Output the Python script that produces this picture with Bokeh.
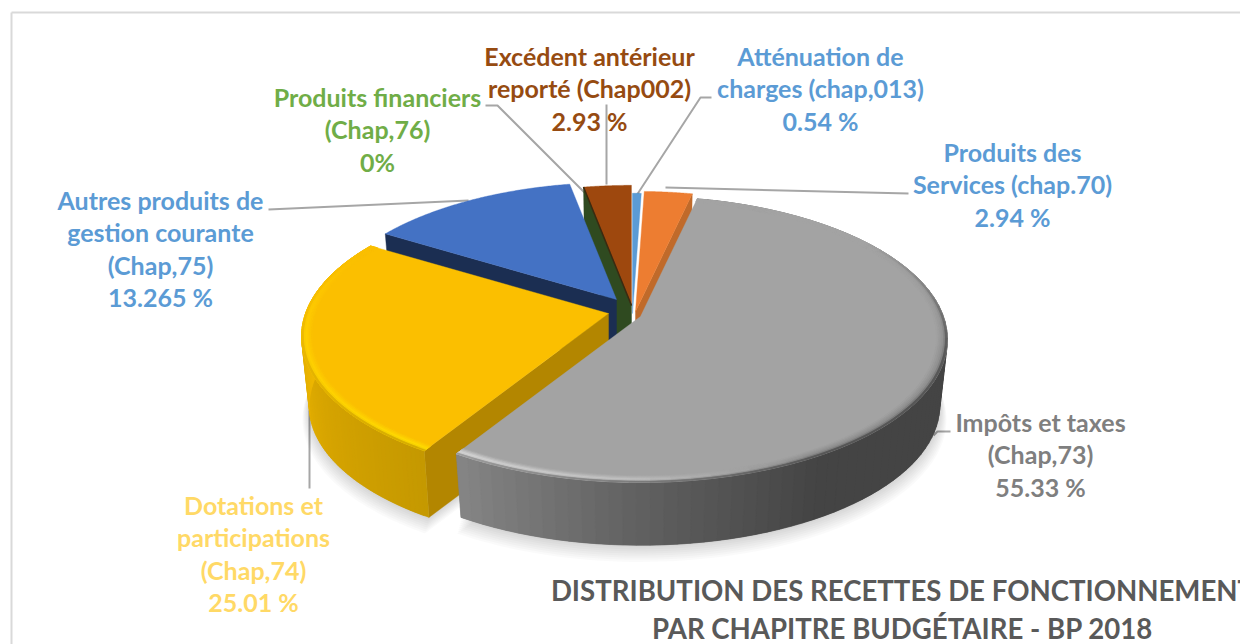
import numpy as np
from bokeh.plotting import figure
from bokeh.models import ColumnDataSource
from bokeh.core.properties import value
from bokeh.embed import file_html
from bokeh.resources import INLINE

# ---- data -------------------------------------------------------------
categories = ["Atténuation de charges", "Produits des Services", "Impôts et taxes",
              "Dotations et participations", "Autres produits de gestion courante",
              "Produits financiers", "Excédent antérieur reporté"]
values = [0.54, 2.94, 55.33, 25.01, 13.265, 0.0, 2.93]

label_lines = [
    ["Atténuation de", "charges (chap,013)", "0.54 %"],
    ["Produits des", "Services (chap.70)", "2.94 %"],
    ["Impôts et taxes", "(Chap,73)", "55.33 %"],
    ["Dotations et", "participations", "(Chap,74)", "25.01 %"],
    ["Autres produits de", "gestion courante", "(Chap,75)", "13.265 %"],
    ["Produits financiers", "(Chap,76)", "0%"],
    ["Excédent antérieur", "reporté (Chap002)", "2.93 %"],
]
title_lines = ["DISTRIBUTION DES RECETTES DE FONCTIONNEMENT",
               "PAR CHAPITRE BUDGÉTAIRE - BP 2018"]

# ---- layout / style ----------------------------------------------------
W, H = 1240, 644
START = -0.02           # clockwise degrees from the top for the first slice
A, B, K = 303.0, 139.4, 0.16   # projection of the unit disc
BOTTOM = 0.975

apex = [(632, 313), (635, 311), (640, 316), (608, 313), (616, 299), (631, 305), (631, 305)]
radius = [1.0, 1.0, 1.0, 1.0, 0.97, 1.0, 1.0]
depth = [66, 66, 67, 70, 66, 66, 66]
top_col = ["#5B9BD5", "#ED7D31", "#A3A3A3", "#FBBF00", "#4472C4", "#2F4A20", "#9E480E"]
label_col = ["#5B9BD5", "#5B9BD5", "#7F7F7F", "#FFD966", "#5B9BD5", "#70AD47", "#964B11"]
label_cx = [820, 1012, 1040, 253, 160, 377, 589]
label_y0 = [55.5, 151.5, 421.5, 504.5, 199.5, 96.5, 55.5]
LINE_H = 32.4
FS = "25px"

leaders = [
    [(636, 195), (700, 97), (711, 97)],
    [(665, 187), (908, 193)],
    [(933, 435), (937, 431), (950, 431)],
    [(309, 410), (309, 488)],
    [(268, 209), (468, 200)],
    [(584, 192), (497, 105), (485, 105)],
    [(606, 184), (606, 104)],
]


def proj(i, alpha, r=1.0, s=1.0, d=0.0):
    a = np.radians(alpha)
    X, Y = r * radius[i] * np.sin(a), r * radius[i] * np.cos(a)
    w = 1 + K * Y
    return apex[i][0] + s * A * X / w, apex[i][1] + d - s * B * Y / w


def rgb(h):
    return np.array([int(h[j:j + 2], 16) for j in (1, 3, 5)], float)


def hexc(c):
    return "#%02x%02x%02x" % tuple(int(round(v)) for v in np.clip(c, 0, 255))


def ramp(stops, alpha):
    an = [s[0] for s in stops]
    cs = np.array([rgb(s[1]) for s in stops])
    return np.array([np.interp(alpha, an, cs[:, j]) for j in range(3)])


edges = np.concatenate([[0], np.cumsum(values)]) / sum(values) * 360 + START
span = [(edges[i], edges[i + 1]) for i in range(len(values))]

wall_stops = {
    1: [(0, "#C06A2A"), (30, "#C06A2A")],
    2: [(0, "#444444"), (150, "#444444"), (180, "#606060"), (212, "#868686")],
    3: [(210, "#C49800"), (240, "#D6A400"), (270, "#EDB600"), (300, "#EDB600")],
    4: [(300, "#1B2E52"), (350, "#1B2E52")],
}
hi_stops = {
    2: [(0, "#A3A3A3"), (120, "#8a8a8a"), (150, "#8a8a8a"), (180, "#c4c4c4"), (212, "#dcdcdc")],
    3: [(210, "#FFDF00"), (240, "#FFD400"), (300, "#FFCC00")],
}
bevel_strength = {
    2: ([55.0, 105.0, 360.0], [0.0, 1.0, 1.0]),
    3: ([0.0, 262.0, 298.0], [1.0, 1.0, 0.0]),
}

xs, ys, cols, alphas = [], [], [], []


def add(x, y, c, al=1.0):
    xs.append(list(np.round(x, 2)))
    ys.append(list(np.round(y, 2)))
    cols.append(c)
    alphas.append(al)


def sector(i, r=1.0, s=1.0, d=0.0, n=120):
    a = np.linspace(*span[i], n)
    x, y = proj(i, a, r, s, d)
    return np.r_[apex[i][0], x], np.r_[apex[i][1] + d, y]


def radial_wall(i, alpha, color):
    x1, y1 = proj(i, alpha)
    x2, y2 = proj(i, alpha, 1, BOTTOM, depth[i])
    add([apex[i][0], x1, x2, apex[i][0]], [apex[i][1], y1, y2, apex[i][1] + depth[i]], color)


def outer_wall(i, n=90):
    a = np.linspace(*span[i], n + 1)
    x1, y1 = proj(i, a)
    x2, y2 = proj(i, a, 1, BOTTOM, depth[i])
    for j in range(n):
        k = min(j + 2, n)          # each quad overlaps the next one
        c = hexc(ramp(wall_stops[i], (a[j] + a[j + 1]) / 2))
        add([x1[j], x1[k], x2[k], x2[j]], [y1[j], y1[k], y2[k], y2[j]], c)


def bevel(i, width=0.034, bands=6, n=60):
    a = np.linspace(*span[i], n + 1)
    tc = rgb(top_col[i])
    sa, sv = bevel_strength[i]
    for b in range(bands):
        r0, r1 = 1 - width * (1 - b / bands), 1 - width * (1 - (b + 1) / bands)
        r1b = min(1.0, r1 + width / bands)
        t = (b + 0.5) / bands
        x0, y0 = proj(i, a, r0)
        x1, y1 = proj(i, a, r1b)
        for j in range(n):
            k = min(j + 2, n)
            m = (a[j] + a[j + 1]) / 2
            hi = ramp(hi_stops[i], m)
            wl = ramp(wall_stops[i], m)
            c = tc + (hi - tc) * (t / 0.7) if t < 0.7 else hi + (wl - hi) * ((t - 0.7) / 0.3)
            c = tc + (c - tc) * np.interp(m, sa, sv)
            add([x0[j], x0[k], x1[k], x1[j]], [y0[j], y0[k], y1[k], y1[j]], hexc(c))


# soft ground shadow
for t in np.linspace(1, 0, 9):
    for i in (2, 3):
        x, y = sector(i, 1.0, BOTTOM + 0.022 * t, depth[i] + 13 * t)
        add(x, y, "#000000", 0.018)

# back slices, back to front
radial_wall(1, span[1][1], wall_stops[1][0][1])
x, y = sector(6)
add(x, y, top_col[6])
x, y = sector(0)
add(x, y, top_col[0])
x, y = sector(1)
add(x, y, top_col[1])
radial_wall(5, span[6][0], top_col[5])
radial_wall(4, span[4][0], wall_stops[4][0][1])
x, y = sector(4)
add(x, y, top_col[4])
radial_wall(3, span[3][0], "#B38600")
outer_wall(3)
x, y = sector(3)
add(x, y, top_col[3])
bevel(3)
outer_wall(2)
x, y = sector(2)
add(x, y, top_col[2])
bevel(2)

p = figure(width=W, height=H, x_range=(0, W), y_range=(H, 0),
           output_backend="svg", toolbar_location=None, min_border=0,
           outline_line_color=None, background_fill_color="white", border_fill_color="white")
p.axis.visible = False
p.grid.visible = False

# frame of the original chart
p.line([11, 11], [644, 12], line_color="#D9D9D9", line_width=2)
p.line([11, 1240], [12, 12], line_color="#D9D9D9", line_width=2)

# leader lines
p.multi_line([[q[0] for q in l] for l in leaders], [[q[1] for q in l] for l in leaders],
             line_color="#A6A6A6", line_width=2)

src = ColumnDataSource(dict(xs=xs, ys=ys, c=cols, al=alphas))
p.patches("xs", "ys", source=src, fill_color="c", line_color="c", fill_alpha="al",
          line_alpha="al", line_width=0.4)

# dark seam between brown and green
bx, by = proj(6, span[6][0])
p.line([bx, apex[6][0]], [by, apex[6][1]], line_color="#3B2A10", line_width=1.5)

# labels
tx, ty, tt, tc = [], [], [], []
for i, lines in enumerate(label_lines):
    for n, line in enumerate(lines):
        tx.append(label_cx[i])
        ty.append(label_y0[i] + n * LINE_H)
        tt.append(line)
        tc.append(label_col[i])
p.text(tx, ty, text=tt, text_color=tc, text_align="center", text_baseline="middle",
       text_font=value("Lato"), text_font_style="bold", text_font_size=FS)

p.text([902, 902], [590, 628], text=title_lines, text_color="#595959", text_align="center",
       text_baseline="middle", text_font=value("Lato"), text_font_style="bold",
       text_font_size="27.6px")

open("out.html", "w").write(file_html(p, INLINE))
